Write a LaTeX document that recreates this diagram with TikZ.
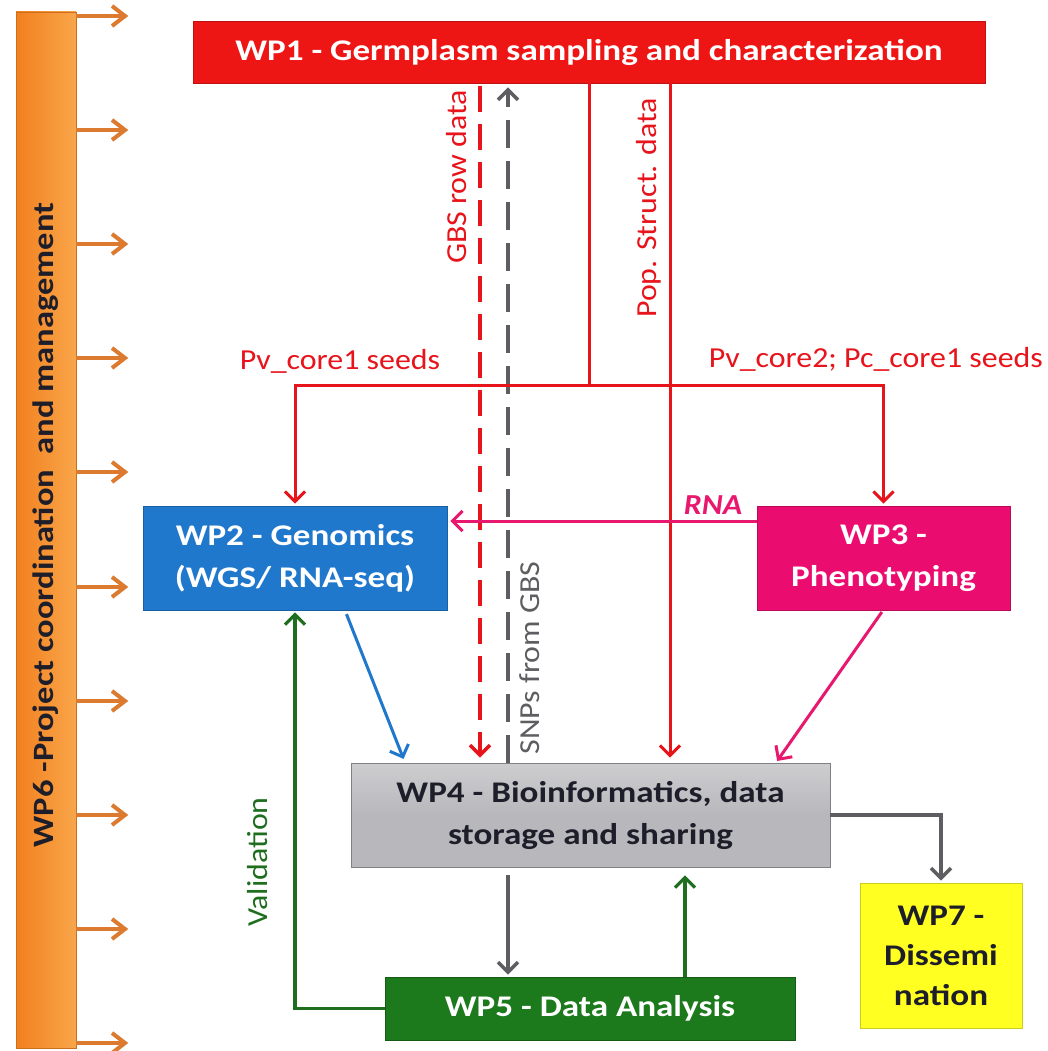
\documentclass[tikz,border=0pt]{standalone}
\usepackage{fontspec}
\setmainfont{Carlito}[FakeStretch=1.1]
\newfontfamily\boxfont{Carlito}[FakeStretch=1.17]
\usetikzlibrary{arrows.meta,calc}
\definecolor{cRed}{HTML}{EE1515}
\definecolor{cRedLine}{HTML}{E8141C}
\definecolor{cBlue}{HTML}{1F78CC}
\definecolor{cPink}{HTML}{EB0C70}
\definecolor{cPinkLine}{HTML}{E8186E}
\definecolor{cGray}{HTML}{B8B8BC}
\definecolor{cGrayLine}{HTML}{5E5E62}
\definecolor{cGreen}{HTML}{1C7A1C}
\definecolor{cGreenLine}{HTML}{1F6E1F}
\definecolor{cYellow}{HTML}{FFFF22}
\definecolor{cOrange}{HTML}{F2801F}
\definecolor{cOrangeL}{HTML}{F8A64A}
\definecolor{cOrangeArr}{HTML}{DC7B30}
\definecolor{cText}{HTML}{1E1E2A}
\tikzset{
  wpbox/.style={rectangle, inner sep=0pt, align=center,
    font=\boxfont\fontsize{30}{42}\selectfont\bfseries, line width=0.8pt},
  lbl/.style={inner sep=0pt, font=\fontsize{29}{34}\selectfont},
  tipv/.style={-{Straight Barb[length=10pt,width=20pt]}},
  redline/.style={draw=cRedLine, line width=3pt},
  reddash/.style={draw=cRedLine, line width=3.5pt, dash pattern=on 26pt off 12pt},
  graydash/.style={draw=cGrayLine, line width=3.5pt, dash pattern=on 28pt off 13pt},
  grayline/.style={draw=cGrayLine, line width=3.5pt},
  pinkline/.style={draw=cPinkLine, line width=3pt},
  blueline/.style={draw=cBlue, line width=3pt},
  greenline/.style={draw=cGreenLine, line width=3.2pt},
  orarr/.style={draw=cOrangeArr, line width=4pt, -{Straight Barb[length=13pt,width=20pt]}},
}
\begin{document}
\begin{tikzpicture}[x=1pt,y=-1pt]
\useasboundingbox (0,0) rectangle (1047,1051);
\fill[white] (0,0) rectangle (1047,1051);

% WP6 bar
\node[rectangle, inner sep=0pt, minimum width=60pt, minimum height=1036pt,
  left color=cOrange, right color=cOrangeL, draw=cOrange!85!black, line width=0.6pt] (wp6) at (46,530) {};
\node[rotate=90, inner sep=0pt, font=\boxfont\fontsize{29.5}{34}\selectfont\bfseries, text=cText] (wp6t) at (46,525)
  {WP6 -Project coordination\ \ and management};
\foreach \yy in {16,130,244,358,472,587,701,815,929,1043}
  \draw[orarr] (wp6.east |- 0,\yy) -- ++(52,0);

% boxes
\node[wpbox, fill=cRed, draw=cRed!80!black, text=white, minimum width=792pt, minimum height=62pt] (wp1) at (589,52)
  {WP1 - Germplasm\ sampling\ and\ characterization};
\node[wpbox, fill=cBlue, draw=cBlue!80!black, text=white, minimum width=304pt, minimum height=104pt] (wp2) at (295,558)
  {WP2 - Genomics\\(WGS/ RNA-seq)};
\node[wpbox, fill=cPink, draw=cPink!80!black, text=white, minimum width=253pt, minimum height=104pt] (wp3) at (883.5,558)
  {WP3 -\\Phenotyping};
\node[wpbox, top color=cGray!70!white, bottom color=cGray, middle color=cGray, draw=cGray!70!black, text=cText, minimum width=479pt, minimum height=104pt] (wp4) at (590.5,815)
  {WP4 - Bioinformatics,\ data\\storage and sharing};
\node[wpbox, fill=cGreen, draw=cGreen!75!black, text=white, minimum width=410pt, minimum height=63pt] (wp5) at (590,1008.5)
  {WP5 - Data\ Analysis};
\node[wpbox, fill=cYellow, draw=cYellow!80!black, text=cText, minimum width=162pt, minimum height=145pt,
  font=\boxfont\fontsize{30}{40}\selectfont\bfseries] (wp7) at (941,955.5)
  {WP7 -\\Dissemi\\nation};

% helper coordinates
\coordinate (xg) at (480,0);
\coordinate (xs) at (508,0);
\coordinate (xm) at (589,0);
\coordinate (xp) at (670,0);
\coordinate (ybus) at (0,385);
\coordinate (yr) at (0,521);
\coordinate (xb1) at (345,0);
\coordinate (xb2) at (405,0);
\coordinate (xk1) at (883,0);
\coordinate (xk2) at (776,0);
\coordinate (xq) at (685,0);

% connectors
\draw[reddash, tipv, shorten <=3pt, shorten >=5pt] (wp1.south -| xg) -- (wp4.north -| xg);
\draw[graydash, tipv, shorten >=4pt] (wp4.north -| xs) -- (wp1.south -| xs);
\draw[redline] (wp1.south -| xm) -- (xm |- ybus);
\draw[redline, tipv, shorten >=2pt] (xm |- ybus) -| (wp2.north);
\draw[redline, tipv, shorten >=2pt] (xm |- ybus) -| (wp3.north);
\draw[redline, tipv, shorten >=5pt] (wp1.south -| xp) -- (wp4.north -| xp);
\draw[pinkline, tipv, shorten >=3pt] (wp3.west |- yr) -- (wp2.east |- yr);
\draw[blueline, tipv, shorten <=4pt, shorten >=4pt] (wp2.south -| xb1) -- (wp4.north -| xb2);
\draw[pinkline, tipv, shorten <=2pt, shorten >=2pt] (wp3.south -| xk1) -- (wp4.north -| xk2);
\draw[greenline, tipv, shorten >=2pt] (wp5.west) -| (wp2.south);
\draw[greenline, tipv, shorten >=8pt] (wp5.north -| xq) -- (wp4.south -| xq);
\draw[grayline, tipv, shorten <=8pt, shorten >=2pt] (wp4.south -| xs) -- (wp5.north -| xs);
\draw[grayline, tipv, shorten >=2pt] (wp4.east) -| (wp7.north);

% labels
\node[lbl, rotate=90, text=cRedLine] (lgbs) at (457,177) {GBS row data};
\node[lbl, rotate=90, text=cRedLine] (lpop) at (649,208) {Pop. Struct. data};
\node[lbl, rotate=90, text=cGrayLine] (lsnp) at (530,658) {SNPs from GBS};
\node[lbl, text=cRedLine] (lpv1) at (340,361) {Pv\_core1 seeds};
\node[lbl, text=cRedLine, anchor=east] (lpv2) at (1043,359) {Pv\_core2; Pc\_core1 seeds};
\node[lbl, text=cPinkLine, font=\fontsize{29}{34}\selectfont\bfseries\itshape] (lrna) at (713,505) {RNA};
\node[lbl, rotate=90, text=cGreenLine] (lval) at (258,862) {Validation};
\end{tikzpicture}
\end{document}
